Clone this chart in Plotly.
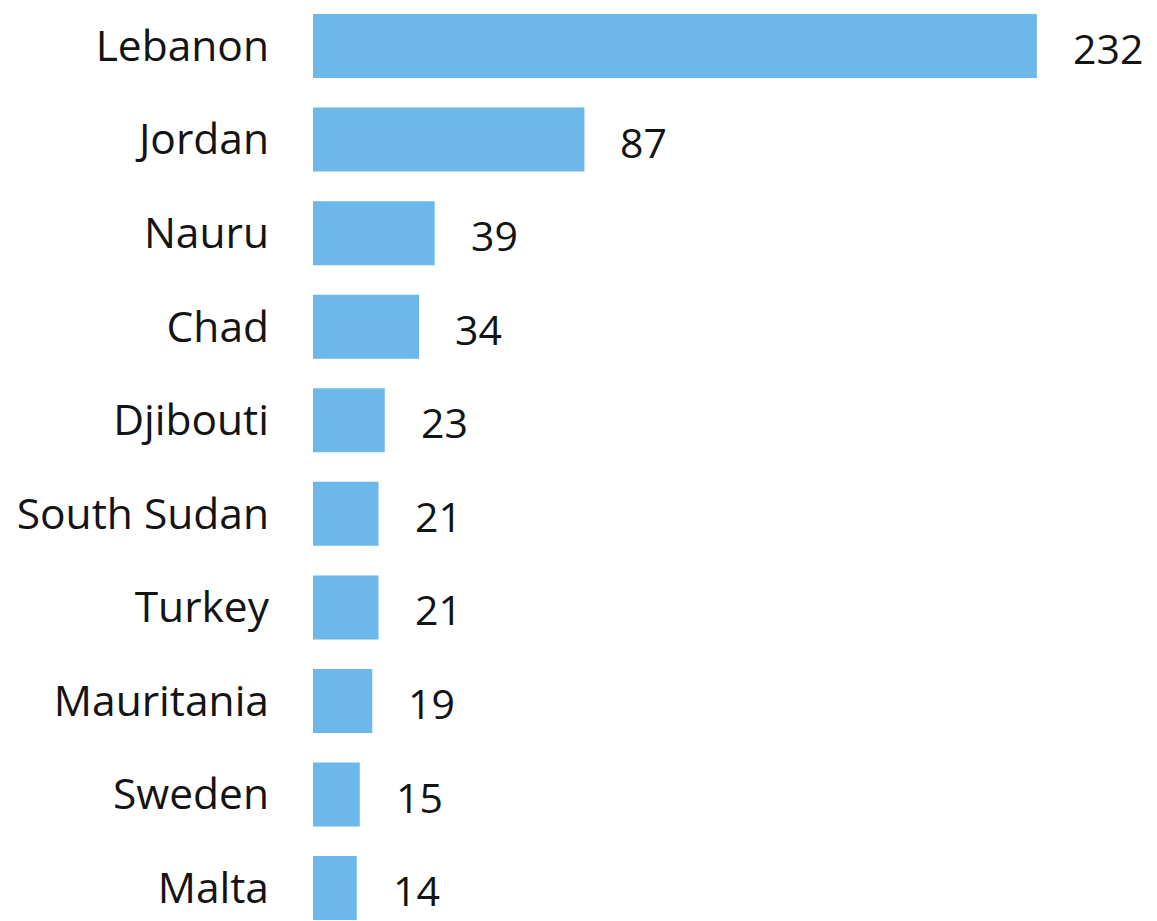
import plotly.graph_objects as go

countries = ["Lebanon", "Jordan", "Nauru", "Chad", "Djibouti", "South Sudan",
             "Turkey", "Mauritania", "Sweden", "Malta"]
values = [232, 87, 39, 34, 23, 21, 21, 19, 15, 14]

BAR_COLOR = "#6cb8ea"
TEXT_COLOR = "#141414"
FONT = "Open Sans"
SIZE = 42.5

fig = go.Figure(
    go.Bar(
        x=values,
        y=countries,
        orientation="h",
        marker=dict(color=BAR_COLOR, line=dict(width=0)),
        width=0.684,
        hoverinfo="skip",
    )
)

for c, v in zip(countries, values):
    fig.add_annotation(
        x=v, y=c, text=str(v), showarrow=False,
        xanchor="left", xshift=34, yshift=-2,
        font=dict(family=FONT, size=41, color=TEXT_COLOR),
    )

fig.update_layout(
    width=1157, height=921,
    margin=dict(l=313, r=0, t=0, b=0),
    paper_bgcolor="white", plot_bgcolor="white",
    showlegend=False,
    font=dict(family=FONT, size=SIZE, color=TEXT_COLOR),
)
fig.update_xaxes(range=[0, 270.5], visible=False, showgrid=False, zeroline=False)
fig.update_yaxes(
    range=[9.352, -0.492], showgrid=False, zeroline=False, showline=False,
    ticks="", ticklabelstandoff=43,
    tickfont=dict(family=FONT, size=SIZE, color=TEXT_COLOR),
)

fig.write_html("out.html")
